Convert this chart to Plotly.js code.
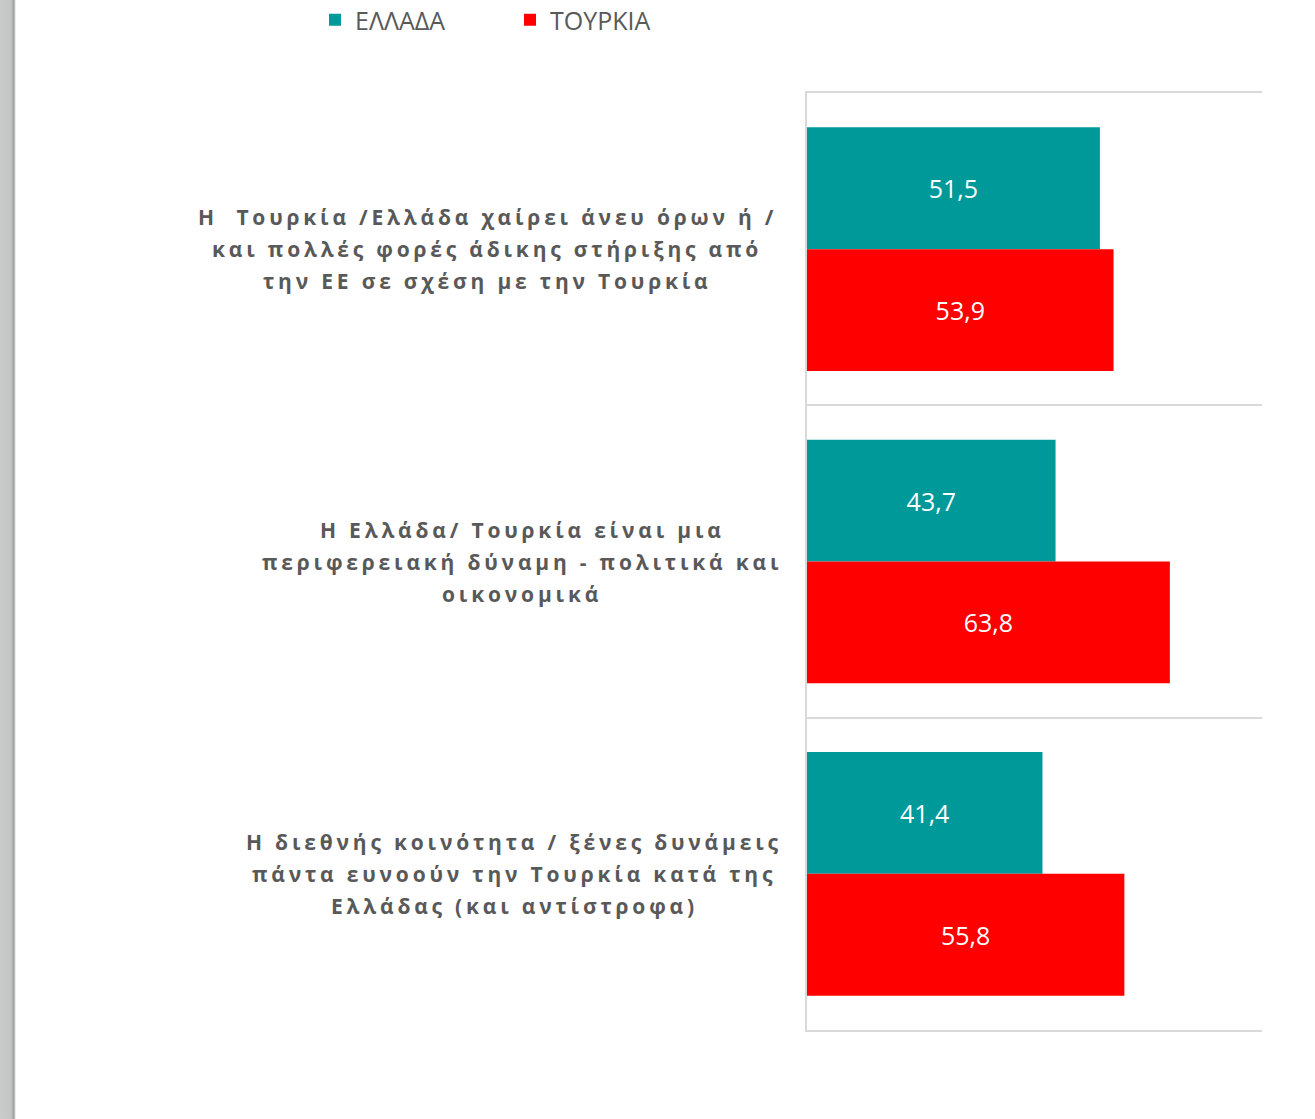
<!DOCTYPE html>
<html>
<head>
<meta charset="utf-8">
<script src="https://cdn.plot.ly/plotly-3.0.1.min.js"></script>
<style>
  html, body { margin: 0; padding: 0; background: #fff; }
  #wrap { position: relative; width: 1315px; height: 1119px; }
  #edge { position: absolute; left: 0; top: 0; width: 16px; height: 1119px;
          background: linear-gradient(to right, #c9cbca 0px, #c4c6c5 11px, #a9abaa 13px, #9c9e9d 14px, #d8d8d8 15px, #ffffff 16px); z-index: 2; }
  #chart { position: absolute; left: 0; top: 0; width: 1315px; height: 1119px; }
  text.annotation-text { letter-spacing: 3.8px; }
</style>
</head>
<body>
<div id="wrap"><div id="edge"></div><div id="chart"></div></div>
<script>
// ---- data ----
const seriesNames = ['ΕΛΛΑΔΑ', 'ΤΟΥΡΚΙΑ'];
const categoryLines = [
  ['Η\u00a0 Τουρκία /Ελλάδα χαίρει άνευ όρων ή /', 'και πολλές φορές άδικης στήριξης από', 'την ΕΕ σε σχέση με την Τουρκία'],
  ['Η Ελλάδα/ Τουρκία είναι μια', 'περιφερειακή δύναμη - πολιτικά και', 'οικονομικά'],
  ['Η διεθνής κοινότητα / ξένες δυνάμεις', 'πάντα ευνοούν την Τουρκία κατά της', 'Ελλάδας (και αντίστροφα)']
];
const categories = categoryLines.map(l => l.join(' '));
const elladaValues = [51.5, 43.7, 41.4];
const tourkiaValues = [53.9, 63.8, 55.8];

// ---- style ----
const colors = ['#009999', '#ff0000'];
const W = 1315, H = 1119;
const plotL = 807, plotR = 1262, plotT = 93, plotB = 1030;
const labelCentersPx = [487, 522, 514];
const lineStep = 32;

const traces = [elladaValues, tourkiaValues].map((vals, i) => ({
  type: 'bar',
  orientation: 'h',
  name: seriesNames[i],
  y: categories,
  x: vals,
  marker: { color: colors[i] },
  texttemplate: '%{x:.1f}',
  textposition: 'inside',
  insidetextanchor: 'middle',
  textfont: { family: 'Open Sans', size: 25, color: '#ffffff' },
  hoverinfo: 'skip'
}));

const annotations = [];
categoryLines.forEach((lines, ci) => {
  const xPaper = (labelCentersPx[ci] - plotL) / (plotR - plotL);
  const n = lines.length;
  lines.forEach((line, li) => {
    annotations.push({
      xref: 'paper', yref: 'y',
      x: xPaper, y: categories[ci],
      xanchor: 'center', yanchor: 'middle',
      text: line,
      showarrow: false,
      align: 'center',
      yshift: -(li - (n - 1) / 2) * lineStep,
      font: { family: 'Open Sans', size: 21, color: '#595959', weight: 'bold' }
    });
  });
});

const layout = {
  width: W, height: H,
  margin: { l: plotL, r: W - plotR, t: plotT, b: H - plotB, pad: 0, autoexpand: false },
  paper_bgcolor: '#ffffff',
  plot_bgcolor: '#ffffff',
  separators: ',.',
  barmode: 'group',
  bargap: 0.22,
  bargroupgap: 0,
  showlegend: true,
  legend: {
    orientation: 'h',
    x: (315 - plotL) / (plotR - plotL), xanchor: 'left',
    y: 1 + (plotT + 3) / (plotB - plotT), yanchor: 'top',
    font: { family: 'Open Sans', size: 25, color: '#595959' },
    entrywidth: 150, entrywidthmode: 'pixels',
    traceorder: 'normal',
    bgcolor: 'rgba(0,0,0,0)'
  },
  xaxis: {
    range: [0, 80],
    showgrid: false, zeroline: false,
    showline: true, mirror: true, linecolor: '#d9d9d9', linewidth: 2,
    showticklabels: false, ticks: ''
  },
  yaxis: {
    type: 'category',
    autorange: 'reversed',
    tickson: 'boundaries',
    showgrid: true, gridcolor: '#d9d9d9', gridwidth: 2,
    showline: true, linecolor: '#d9d9d9', linewidth: 2,
    showticklabels: false, ticks: '',
    zeroline: false
  },
  annotations: annotations
};

Plotly.newPlot('chart', traces, layout, { displayModeBar: false, staticPlot: true });
</script>
</body>
</html>
